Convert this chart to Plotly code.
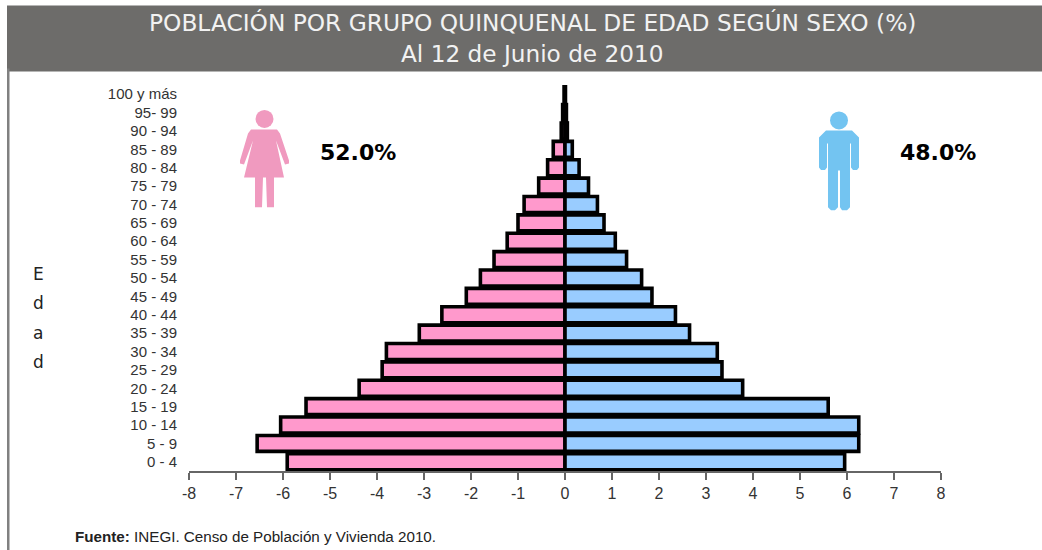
import plotly.graph_objects as go

ages = ["0 - 4","5 - 9","10 - 14","15 - 19","20 - 24","25 - 29","30 - 34","35 - 39","40 - 44","45 - 49",
        "50 - 54","55 - 59","60 - 64","65 - 69","70 - 74","75 - 79","80 - 84","85 - 89","90 - 94","95- 99","100 y más"]
mujeres = [-5.91,-6.55,-6.05,-5.51,-4.38,-3.89,-3.8,-3.1,-2.62,-2.1,-1.8,-1.51,-1.23,-1.0,-0.87,-0.56,-0.37,-0.25,-0.08,-0.05,-0.02]
hombres = [5.95,6.25,6.25,5.6,3.78,3.34,3.24,2.65,2.35,1.85,1.63,1.31,1.07,0.83,0.69,0.5,0.3,0.155,0.05,0.03,0.01]
x_ticks = list(range(-8, 9))
W, H = 1042, 550
L, R, T, B = 189, 941, 84.5, 471

def pts(path):
    """icon path in page pixels -> paper coordinates"""
    out = []
    toks = path.split()
    i = 0
    while i < len(toks):
        t = toks[i]
        if t in "MLZ":
            out.append(t); i += 1
        else:
            x = (float(t) - L) / (R - L)
            y = (B - float(toks[i + 1])) / (B - T)
            out.append(f"{x:.5f},{y:.5f}"); i += 2
    return " ".join(out)

def circle(cx, cy, r, color):
    return dict(type="circle", xref="paper", yref="paper", layer="above",
                x0=(cx - r - L) / (R - L), x1=(cx + r - L) / (R - L),
                y0=(B - cy - r) / (B - T), y1=(B - cy + r) / (B - T),
                fillcolor=color, line_width=0)

def poly(path, color):
    return dict(type="path", xref="paper", yref="paper", layer="above",
                path=pts(path), fillcolor=color, line_width=0)

def rect_px(x0, y0, x1, y1, color):
    return dict(type="rect", xref="paper", yref="paper", layer="below",
                x0=(x0 - L) / (R - L), x1=(x1 - L) / (R - L),
                y0=(B - y0) / (B - T), y1=(B - y1) / (B - T),
                fillcolor=color, line_width=0)

pink = "#f09abf"
blue = "#73c4f1"
woman = "M 251 129 L 277 129 L 280 133 L 289 160 L 289 163 L 285 164 L 276 140 L 284 177 L 274 177 L 274 207 L 267 207 L 266 177 L 263 177 L 262 207 L 255 207 L 255 177 L 244 177 L 253 140 L 244 164 L 240 163 L 240 160 L 248 133 Z"
man = "M 826 130 L 852 130 L 859 137 L 859 167 L 857 169.5 L 853 169.5 L 851 167 L 851 143 L 850 143 L 850 207 L 847 210 L 842 210 L 840 207 L 840 170 L 838 170 L 838 207 L 835 210 L 831 210 L 828 207 L 828 143 L 827 143 L 827 167 L 825 169.5 L 821 169.5 L 819 167 L 819 137 Z"

fig = go.Figure()
fig.add_bar(name="Mujeres", y=ages, x=mujeres, orientation="h", marker=dict(color="#ff99cc", line=dict(color="#000", width=3.6)))
fig.add_bar(name="Hombres", y=ages, x=hombres, orientation="h", marker=dict(color="#99ccff", line=dict(color="#000", width=3.6)))

ann = []
def text(x, y, s, size, color, family, xanchor="center", bold=False):
    ann.append(dict(xref="paper", yref="paper", x=(x - L) / (R - L), y=(B - y) / (B - T), text=f"<b>{s}</b>" if bold else s,
                    showarrow=False, xanchor=xanchor, yanchor="middle", font=dict(size=size, color=color, family=family)))

text(532, 22, "POBLACIÓN POR GRUPO QUINQUENAL DE EDAD SEGÚN SEXO (%)", 23.3, "#f2f2f2", "DejaVu Sans")
text(532, 53, "Al 12 de Junio de 2010", 23.2, "#f2f2f2", "DejaVu Sans")
text(358, 152, "52.0%", 22, "#000", "DejaVu Sans", bold=True)
text(938, 152, "48.0%", 22, "#000", "DejaVu Sans", bold=True)
for ch, y in zip("Edad", (274, 303, 333, 362)):
    text(38, y, ch, 17, "#222", "DejaVu Sans")
text(73, 537, "<b>Fuente:</b> INEGI. Censo de Población y Vivienda 2010.", 15.2, "#222", "Liberation Sans", xanchor="left")

fig.update_layout(
    width=W, height=H, margin=dict(l=L, r=W - R, t=T, b=H - B, pad=0),
    barmode="overlay", bargap=0.13, showlegend=False,
    paper_bgcolor="#fff", plot_bgcolor="#fff",
    annotations=ann,
    shapes=[rect_px(7, 5, 1042, 71, "#6d6c6a"), rect_px(7, 68, 9.5, 550, "#808080"),
            circle(264.5, 118.5, 9, pink), poly(woman, pink),
            circle(839, 120, 9, blue), poly(man, blue)],
    xaxis=dict(range=[-8, 8], tickmode="array", tickvals=x_ticks, ticktext=[str(v) for v in x_ticks],
               showgrid=False, zeroline=False, showline=True, linecolor="#666", linewidth=1.5,
               ticks="outside", ticklen=7, tickcolor="#666", tickwidth=1.5,
               tickfont=dict(family="Liberation Sans", size=16, color="#333")),
    yaxis=dict(showgrid=False, zeroline=False, showline=False, ticks="", ticklabelstandoff=11,
               tickfont=dict(family="Liberation Sans", size=15, color="#333"), dtick=1),
)
fig.write_html("out.html", config=dict(displayModeBar=False),
               post_script="document.body.style.margin='0';document.body.style.overflow='hidden';")
